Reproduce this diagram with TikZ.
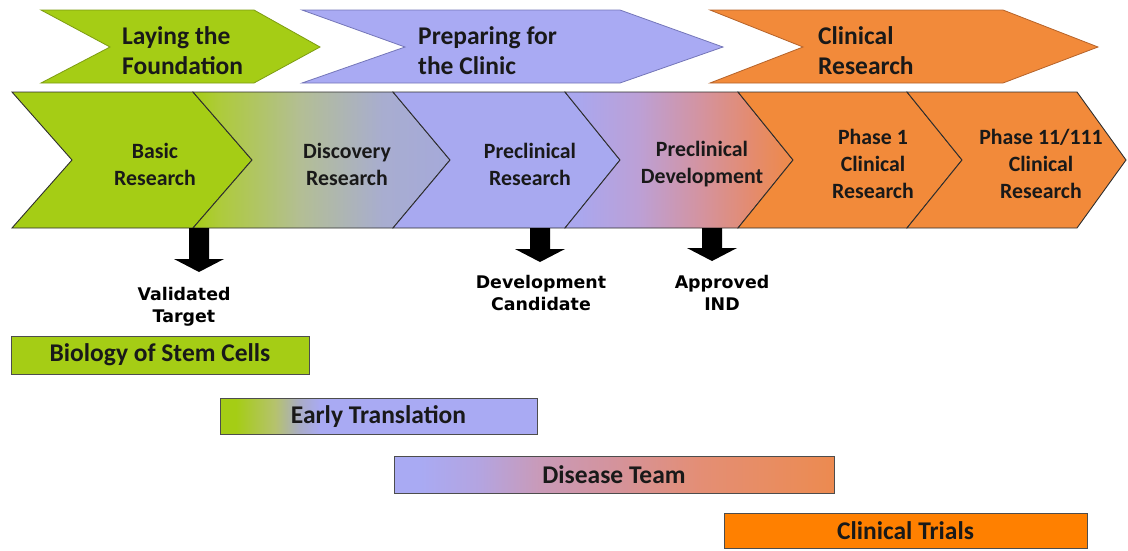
\documentclass[tikz,border=0pt]{standalone}
\usepackage{fontspec}
\setmainfont{Carlito}
\newfontfamily\labfont{DejaVu Sans}
\usetikzlibrary{calc}

\definecolor{grn}{HTML}{A5CD15}
\definecolor{grnlt}{HTML}{AECB3A}
\definecolor{purp}{HTML}{A9AAF3}
\definecolor{orng}{HTML}{F28A3A}
\definecolor{ctrial}{HTML}{FF8000}
\definecolor{dgray}{HTML}{2E2E2E}
\definecolor{grnb}{HTML}{7D9C12}
\definecolor{purpb}{HTML}{7476B8}
\definecolor{orngb}{HTML}{B5632A}
\definecolor{dA}{HTML}{B3BE95}
\definecolor{dB}{HTML}{A8ADD0}
\definecolor{dC}{HTML}{A5A9DA}
\definecolor{pA}{HTML}{AAA7EE}
\definecolor{pB}{HTML}{BCA0D6}
\definecolor{pC}{HTML}{D4939F}
\definecolor{pD}{HTML}{E48B6E}
\definecolor{pE}{HTML}{EE8A48}
\definecolor{eA}{HTML}{B5C26E}
\definecolor{eB}{HTML}{A9ACC8}
\definecolor{sA}{HTML}{B4A4E0}
\definecolor{sB}{HTML}{C99AB8}
\definecolor{sC}{HTML}{D4939C}
\definecolor{sD}{HTML}{E48E74}
\definecolor{sE}{HTML}{EA8C5A}
\definecolor{sF}{HTML}{EC8A50}

\pgfdeclarehorizontalshading{discsh}{100bp}{color(0bp)=(grn); color(25bp)=(grn); color(30bp)=(grnlt); color(46bp)=(dA); color(62bp)=(dB); color(75bp)=(dC); color(100bp)=(dC)}
\pgfdeclarehorizontalshading{pdevsh}{100bp}{color(0bp)=(pA); color(25bp)=(pA); color(28bp)=(pA); color(41bp)=(pB); color(55bp)=(pC); color(66bp)=(pD); color(75bp)=(pE); color(100bp)=(pE)}
\pgfdeclarehorizontalshading{earlysh}{100bp}{color(0bp)=(grn); color(25bp)=(grn); color(27.5bp)=(grn); color(33.7bp)=(eA); color(37.6bp)=(eB); color(40.8bp)=(purp); color(100bp)=(purp)}
\pgfdeclarehorizontalshading{dissh}{100bp}{color(0bp)=(purp); color(25bp)=(purp); color(28bp)=(purp); color(34.8bp)=(sA); color(41.6bp)=(sB); color(50bp)=(sC); color(60bp)=(sD); color(71bp)=(sE); color(75bp)=(sF); color(100bp)=(sF)}

\tikzset{
  x=1pt, y=-1pt,
  mainchev/.style={draw=dgray, line width=0.9pt, line join=miter},
  ctext/.style={font=\bfseries\fontsize{21.8}{27}\selectfont, align=center, inner sep=0pt, text=black!90},
  ttext/.style={font=\bfseries\fontsize{25.5}{30}\selectfont, align=left, inner sep=0pt, anchor=west, text=black!90},
  ltext/.style={font=\labfont\bfseries\fontsize{17.4}{22}\selectfont, align=center, inner sep=0pt, text=black},
  bar/.style={draw=dgray!85, line width=0.9pt, font=\bfseries\fontsize{25.5}{28}\selectfont, inner sep=0pt, text=black!90},
  blockarr/.style={fill=black},
}

\begin{document}
\begin{tikzpicture}
\useasboundingbox (0,0) rectangle (1128,550);

% top chevrons
\fill[grn, draw=grnb, line width=0.8pt] (41,10) -- (254,10) -- (320,47) -- (254,83) -- (41,83) -- (110,47) -- cycle;
\fill[purp, draw=purpb, line width=0.8pt] (302,10) -- (620,10) -- (723,47) -- (620,83) -- (302,83) -- (405,47) -- cycle;
\fill[orng, draw=orngb, line width=0.8pt] (710,10) -- (1003,10) -- (1098,47) -- (1003,83) -- (710,83) -- (803,47) -- cycle;

\node[ttext] (lay) at (122,51) {Laying the\\Foundation};
\node[ttext] (prep) at (418,51) {Preparing for\\the Clinic};
\node[ttext] (clin) at (818,51) {Clinical\\Research};

% main chevrons
\path[mainchev, fill=grn] (12,92) -- (193,92) -- (252,160) -- (193,228) -- (12,228) -- (72,160) -- cycle;
\path[mainchev, shading=discsh] (193,92) -- (393,92) -- (450,160) -- (393,228) -- (193,228) -- (252,160) -- cycle;
\path[mainchev, fill=purp!97!gray] (393,92) -- (565,92) -- (620,160) -- (565,228) -- (393,228) -- (450,160) -- cycle;
\path[mainchev, shading=pdevsh] (565,92) -- (738,92) -- (793,160) -- (738,228) -- (565,228) -- (620,160) -- cycle;
\path[mainchev, fill=orng] (738,92) -- (907,92) -- (962,160) -- (907,228) -- (738,228) -- (793,160) -- cycle;
\path[mainchev, fill=orng] (907,92) -- (1077,92) -- (1126,160) -- (1077,228) -- (907,228) -- (962,160) -- cycle;

\node[ctext] (basic) at (155,164) {Basic\\Research};
\node[ctext] (disc) at (347,164) {Discovery\\Research};
\node[ctext] (precr) at (530,164) {Preclinical\\Research};
\node[ctext] (precd) at (702,164) {Preclinical\\Development};
\node[ctext] (ph1) at (873,164) {Phase 1\\Clinical\\Research};
\node[ctext] (ph2) at (1041,164) {Phase 11/111\\Clinical\\Research};

% block arrows
\coordinate (a1s) at (199,228); \coordinate (a1e) at (199,272);
\coordinate (a2s) at (540,228); \coordinate (a2e) at (540,262);
\coordinate (a3s) at (712,228); \coordinate (a3e) at (712,261);
\foreach \s/\e in {a1s/a1e, a2s/a2e, a3s/a3e}{
  \fill[blockarr] ($(\s)+(-10,0)$) -- ($(\e)+(-10,-13)$) -- ($(\e)+(-25,-13)$) -- (\e) -- ($(\e)+(25,-13)$) -- ($(\e)+(10,-13)$) -- ($(\s)+(10,0)$) -- cycle;
}

\node[ltext] (vt) at (184,307) {Validated\\Target};
\node[ltext] (dc) at (541,293) {Development\\Candidate};
\node[ltext] (ai) at (722,293) {Approved\\IND};

% bars
\node[bar, fill=grn, minimum width=298pt, minimum height=38pt] (bio) at (160,355) {Biology of Stem Cells};
\node[bar, shading=earlysh, minimum width=317pt, minimum height=36pt] (early) at (378.5,416.5) {Early Translation};
\node[bar, shading=dissh, minimum width=440pt, minimum height=37pt] (dis) at (614,474.5) {Disease Team};
\node[bar, fill=ctrial, minimum width=363pt, minimum height=35pt] (ct) at (905.5,531) {Clinical Trials};
\end{tikzpicture}
\end{document}
